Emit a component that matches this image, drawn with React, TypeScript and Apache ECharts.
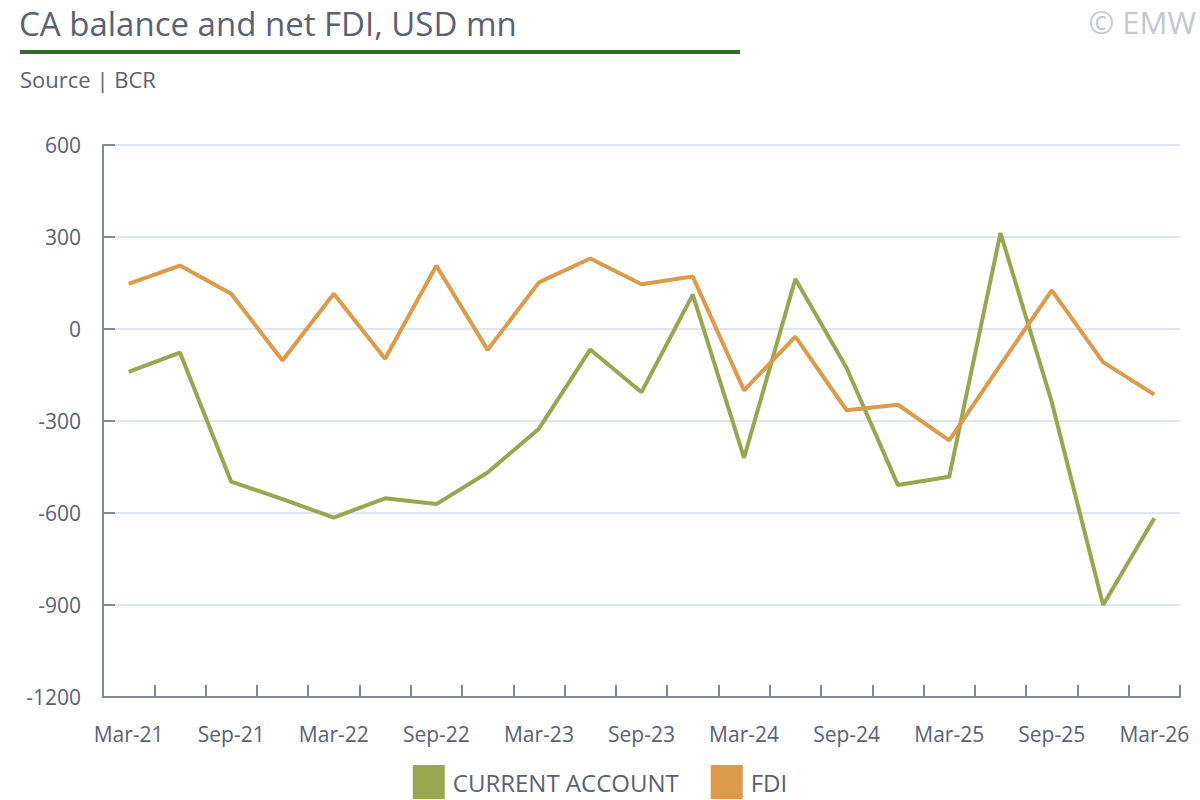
import React, { useEffect, useRef } from "react";
import * as echarts from "echarts";

const categories = [
  "Mar-21", "Jun-21", "Sep-21", "Dec-21",
  "Mar-22", "Jun-22", "Sep-22", "Dec-22",
  "Mar-23", "Jun-23", "Sep-23", "Dec-23",
  "Mar-24", "Jun-24", "Sep-24", "Dec-24",
  "Mar-25", "Jun-25", "Sep-25", "Dec-25",
  "Mar-26",
];

const currentAccount = [
  -140, -77, -498, -555,
  -615, -552, -571, -468,
  -325, -67, -206, 112,
  -420, 163, -127, -509,
  -482, 313, -238, -900,
  -617,
];

const fdi = [
  147, 207, 115, -103,
  115, -97, 206, -68,
  152, 230, 146, 171,
  -200, -25, -265, -247,
  -363, -117, 126, -108,
  -214,
];

const yTicks = { min: -1200, max: 600, interval: 300 };

const FONT = "'Open Sans'";
const TEXT = "#5b6075";
const AXIS = "#7f8798";
const GRID = "#dde6f0";
const GREEN = "#98a64f";
const ORANGE = "#dd9a4a";

export default function App() {
  const ref = useRef<HTMLDivElement>(null);

  useEffect(() => {
    if (!ref.current) return;
    const chart = echarts.init(ref.current, undefined, { renderer: "svg" });
    chart.setOption({
      animation: false,
      backgroundColor: "#ffffff",
      textStyle: { fontFamily: FONT },
      graphic: [
        {
          type: "text",
          left: 19,
          top: 7,
          style: { text: "CA balance and net FDI, USD mn", fill: TEXT, font: `33px ${FONT}` },
        },
        {
          type: "rect",
          shape: { x: 20, y: 50, width: 720, height: 4 },
          style: { fill: "#2f6d2c" },
        },
        {
          type: "text",
          left: 20,
          top: 68,
          style: { text: "Source | BCR", fill: TEXT, font: `22px ${FONT}` },
        },
        {
          type: "text",
          right: 4,
          top: 6,
          style: { text: "© EMW", fill: "#c3c7cf", font: `31px ${FONT}` },
        },
      ],
      legend: {
        bottom: -4,
        left: "center",
        itemWidth: 32,
        itemHeight: 34,
        itemGap: 32,
        icon: "rect",
        textStyle: { color: TEXT, fontSize: 24, fontFamily: FONT, padding: [0, 0, 0, 3] },
        data: [
          { name: "CURRENT ACCOUNT", itemStyle: { color: GREEN } },
          { name: "FDI", itemStyle: { color: ORANGE } },
        ],
      },
      grid: { left: 103, right: 20, top: 145, bottom: 103, containLabel: false },
      xAxis: {
        type: "category",
        data: categories,
        boundaryGap: true,
        axisLine: { onZero: false, lineStyle: { color: AXIS, width: 2 } },
        axisTick: { show: true, inside: true, length: 12, interval: 0, lineStyle: { color: AXIS, width: 2 } },
        axisLabel: { interval: 1, color: TEXT, fontSize: 21, fontFamily: FONT, margin: 26 },
        splitLine: { show: false },
      },
      yAxis: {
        type: "value",
        min: yTicks.min,
        max: yTicks.max,
        interval: yTicks.interval,
        axisLine: { show: true, lineStyle: { color: AXIS, width: 2 } },
        axisTick: { show: true, inside: true, length: 12, lineStyle: { color: AXIS, width: 2 } },
        axisLabel: {
          color: TEXT,
          fontSize: 21,
          fontFamily: FONT,
          margin: 22,
          formatter: (v: number) => String(v),
        },
        splitLine: { show: true, lineStyle: { color: GRID, width: 2 } },
      },
      series: [
        {
          name: "CURRENT ACCOUNT",
          type: "line",
          data: currentAccount,
          symbol: "none",
          lineStyle: { color: GREEN, width: 4 },
          itemStyle: { color: GREEN },
        },
        {
          name: "FDI",
          type: "line",
          data: fdi,
          symbol: "none",
          lineStyle: { color: ORANGE, width: 4 },
          itemStyle: { color: ORANGE },
        },
      ],
    });
    return () => chart.dispose();
  }, []);

  return (
    <div
      ref={ref}
      style={{ position: "fixed", left: 0, top: 0, width: 1200, height: 800 }}
    />
  );
}
